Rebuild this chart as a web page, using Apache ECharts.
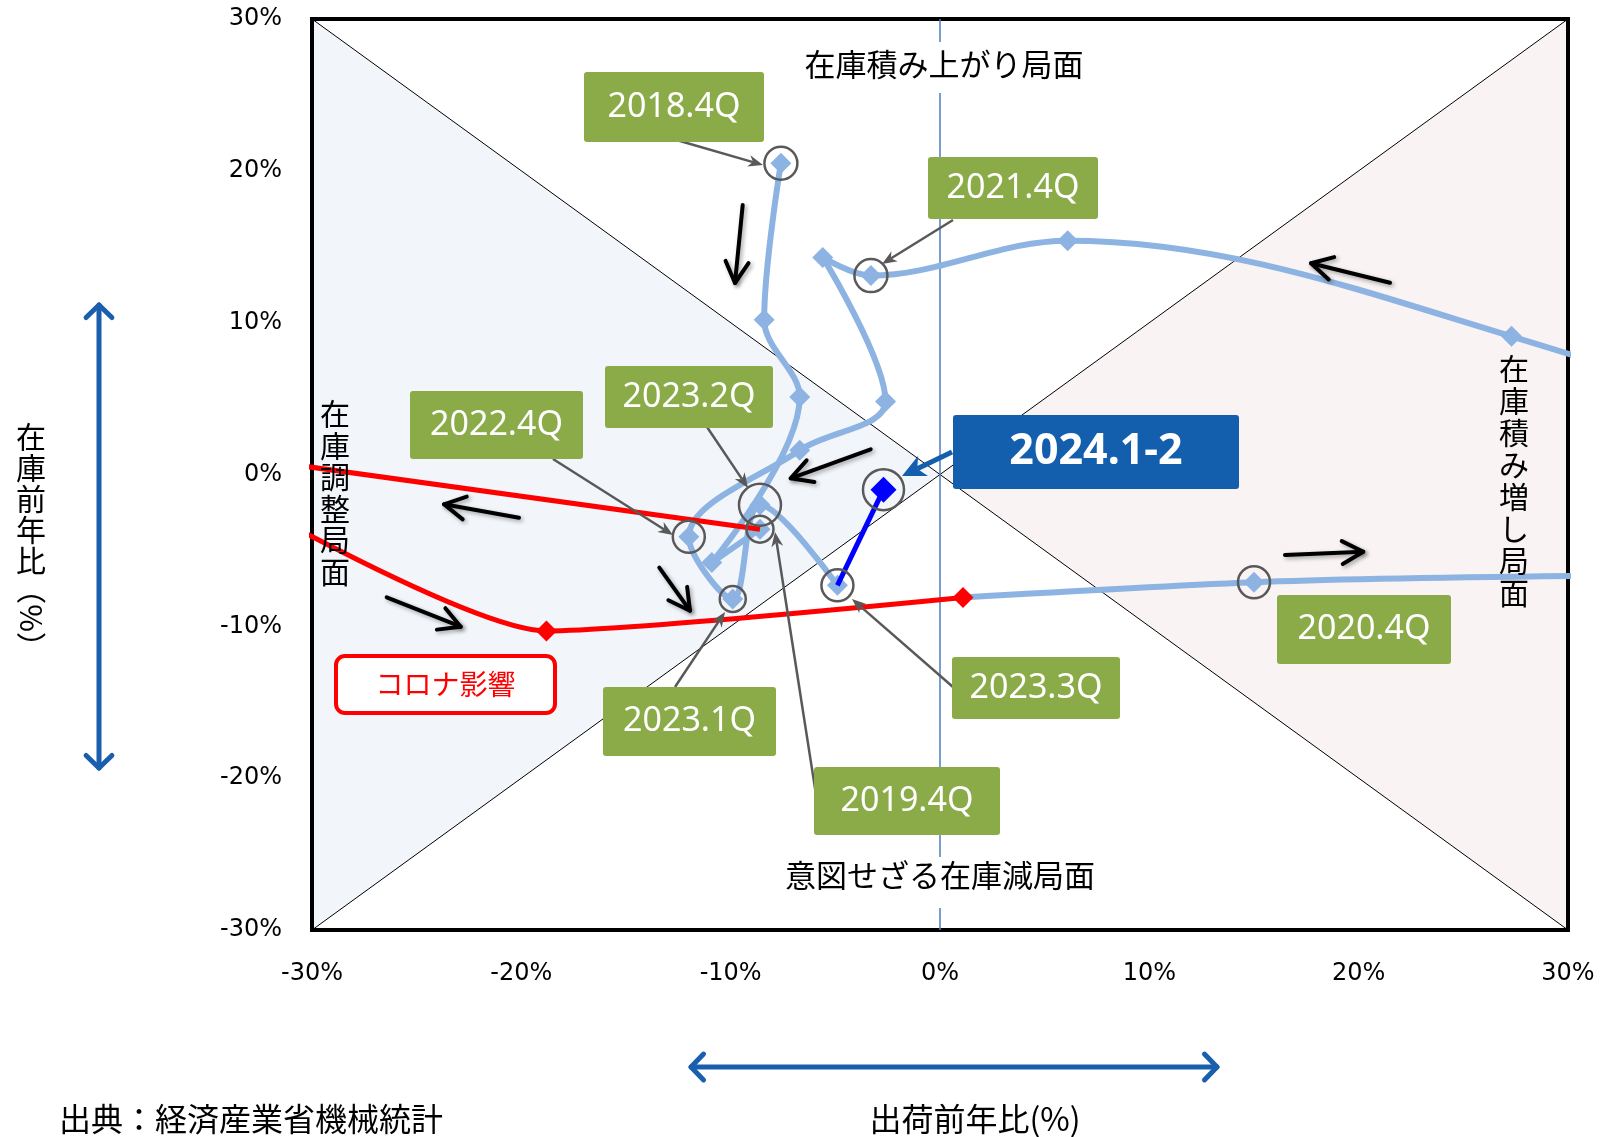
<!DOCTYPE html>
<html>
<head>
<meta charset="utf-8">
<script src="https://cdn.jsdelivr.net/npm/echarts@6/dist/echarts.min.js"></script>
<style>
html, body { margin: 0; padding: 0; background: #fff; }
#main { width: 1606px; height: 1137px; }
</style>
</head>
<body>
<div id="main"></div>
<script>
// 四半期ごとの 出荷前年比 / 在庫前年比 (%)
const quarters = ['2018.4Q', '2019.1Q', '2019.2Q', '2019.3Q', '2019.4Q', '2020.1Q', '2020.2Q', '2020.3Q',
  '2020.4Q', '2021.1Q', '2021.2Q', '2021.3Q', '2021.4Q', '2022.1Q', '2022.2Q', '2022.3Q', '2022.4Q',
  '2023.1Q', '2023.2Q', '2023.3Q', '2024.1-2']
const shipYoY = [-7.6, -8.4, -6.7, -10.9, -8.6, -38, -18.8, 1.1,
  15.0, 55, 27.3, 6.1, -3.3, -5.6, -2.6, -6.7, -12.0,
  -9.9, -8.6, -4.9, -2.7]
const stockYoY = [20.5, 10.2, 5.1, -5.8, -3.6, 2.0, -10.3, -8.1,
  -7.1, -5, 9.1, 15.4, 13.1, 14.3, 4.8, 1.6, -4.1,
  -8.2, -2.0, -7.3, -1.0]
const axisTicks = [-30, -20, -10, 0, 10, 20, 30]

// 局面の区切り (対角線) と塗り分け
const diagDown = [[-30, 30], [30, -30]]
const diagUp = [[-30, -30], [30, 30]]
const zeroLine = [[0, 30], [0, -30]]
const phaseLeft = [[-30, 30], [0, 0], [-30, -30]]
const phaseRight = [[30, 30], [0, 0], [30, -30]]

const LIGHT = '#8db3e2'
const RED = '#ff0000'
const DARK = '#0000ff'
const GREEN = '#8aab47'
const NAVY = '#135fad'
const JP = '"Noto Sans CJK JP", sans-serif'

const myChart = echarts.init(document.getElementById('main'))

// 区間 a..b をデータ項目に
function seg(a, b, markFn) {
  const out = []
  for (let i = a; i <= b; i++) {
    const item = { name: quarters[i], value: [shipYoY[i], stockYoY[i]] }
    const m = markFn ? markFn(i) : null
    if (m) Object.assign(item, m)
    out.push(item)
  }
  return out
}

function guide(data, color, width) {
  return {
    type: 'line', data: data, symbol: 'none', silent: true, z: 1,
    lineStyle: { color: color, width: width }
  }
}

const SM = 0.35

myChart.setOption({
  animation: false,
  grid: {
    left: 312, right: 38, top: 19, bottom: 207,
    show: true, borderColor: '#000', borderWidth: 4
  },
  xAxis: {
    type: 'value', min: axisTicks[0], max: axisTicks[axisTicks.length - 1], interval: 10,
    axisLine: { show: false }, axisTick: { show: false }, splitLine: { show: false },
    axisLabel: { formatter: (v) => v + '%', fontFamily: 'DejaVu Sans', fontSize: 24, color: '#000', margin: 32 }
  },
  yAxis: {
    type: 'value', min: axisTicks[0], max: axisTicks[axisTicks.length - 1], interval: 10,
    axisLine: { show: false }, axisTick: { show: false }, splitLine: { show: false },
    axisLabel: { formatter: (v) => v + '%', fontFamily: 'DejaVu Sans', fontSize: 24, color: '#000', margin: 30 }
  },
  series: [
    guide(diagDown, '#000', 1),
    guide(diagUp, '#000', 1),
    guide(zeroLine, '#4a7ebb', 1.5),
    {
      name: '2019', type: 'line', smooth: SM, z: 3,
      symbol: 'diamond', symbolSize: 21,
      itemStyle: { color: LIGHT }, lineStyle: { color: LIGHT, width: 6 },
      data: seg(0, 4)
    },
    {
      name: 'after', type: 'line', smooth: SM, z: 3,
      symbol: 'diamond', symbolSize: 21,
      itemStyle: { color: LIGHT }, lineStyle: { color: LIGHT, width: 6 },
      data: seg(7, 19, (i) => (i === 7 ? { symbol: 'none' } : null))
    },
    {
      name: 'コロナ影響', type: 'line', smooth: 0.2, z: 4,
      symbol: 'diamond', symbolSize: 21,
      itemStyle: { color: RED }, lineStyle: { color: RED, width: 5 },
      data: seg(4, 7, (i) => (i < 6 ? { symbol: 'none' } : null))
    },
    {
      name: 'latest', type: 'line', z: 5,
      symbol: 'diamond', symbolSize: 26,
      itemStyle: { color: DARK }, lineStyle: { color: DARK, width: 5 },
      data: seg(19, 20, (i) => (i === 19 ? { symbol: 'none' } : null))
    }
  ]
})

const toPx = (p) => myChart.convertToPixel({ gridIndex: 0 }, p)
const ptOf = (q) => { const i = quarters.indexOf(q); return toPx([shipYoY[i], stockYoY[i]]) }

// 吹き出し
const callouts = [
  { q: '2018.4Q', box: [584, 72, 180, 70], from: [673, 139], to: [763, 165], r: 16.5 },
  { q: '2021.4Q', box: [928, 157, 170, 62], from: [953, 220], to: [882, 264], r: 16.5 },
  { q: '2022.4Q', box: [410, 391, 173, 68], from: [553, 459], to: [673, 535], r: 16 },
  { q: '2023.2Q', box: [605, 366, 168, 62], from: [707, 427], to: [748, 488], r: 21 },
  { q: '2023.1Q', box: [603, 687, 173, 69], from: [675, 687], to: [725, 612], r: 13 },
  { q: '2019.4Q', box: [814, 767, 186, 68], from: [817, 801], to: [775, 532], r: 13.5 },
  { q: '2023.3Q', box: [952, 657, 168, 62], from: [953, 687], to: [852, 599], r: 16 },
  { q: '2020.4Q', box: [1277, 595, 174, 69], from: null, to: null, r: 16 }
]

// 動きの方向を示す矢印
const moveArrows = [
  [[742.7, 205], [735, 283]],
  [[1390, 282.7], [1311, 263.3]],
  [[870.7, 449.3], [790.7, 478.3]],
  [[519, 517.7], [444, 504.3]],
  [[386.7, 597.3], [460.7, 626.7]],
  [[659.3, 567.7], [690, 610.7]],
  [[1285, 555], [1363.3, 551.7]]
]

function wings(p1, p2, len, half) {
  const a = Math.atan2(p2[1] - p1[1], p2[0] - p1[0])
  return [
    [p2[0] - len * Math.cos(a - half), p2[1] - len * Math.sin(a - half)],
    [p2[0] - len * Math.cos(a + half), p2[1] - len * Math.sin(a + half)]
  ]
}

function openArrow(p1, p2, color, w, len, half, z, shadow, both) {
  const st = { stroke: color, lineWidth: w, lineCap: 'round', lineJoin: 'round', fill: null }
  if (shadow) Object.assign(st, { shadowBlur: 4, shadowOffsetX: 2, shadowOffsetY: 2, shadowColor: 'rgba(0,0,0,0.35)' })
  const els = [{ type: 'line', z: z, silent: true, shape: { x1: p1[0], y1: p1[1], x2: p2[0], y2: p2[1] }, style: st }]
  const w2 = wings(p1, p2, len, half)
  els.push({ type: 'polyline', z: z, silent: true, shape: { points: [w2[0], p2, w2[1]] }, style: st })
  if (both) {
    const w1 = wings(p2, p1, len, half)
    els.push({ type: 'polyline', z: z, silent: true, shape: { points: [w1[0], p1, w1[1]] }, style: st })
  }
  return els
}

function solidArrow(p1, p2, color, w, len, half, z) {
  const a = Math.atan2(p2[1] - p1[1], p2[0] - p1[0])
  const notch = [p2[0] - len * 0.65 * Math.cos(a), p2[1] - len * 0.65 * Math.sin(a)]
  const w2 = wings(p1, p2, len, half)
  return [
    { type: 'line', z: z, silent: true, shape: { x1: p1[0], y1: p1[1], x2: notch[0], y2: notch[1] }, style: { stroke: color, lineWidth: w } },
    { type: 'polygon', z: z, silent: true, shape: { points: [p2, w2[0], notch, w2[1]] }, style: { fill: color } }
  ]
}

function boxText(box, text, bg, font, z) {
  return [
    { type: 'rect', z: z, silent: true, shape: { x: box[0], y: box[1], width: box[2], height: box[3], r: 3 }, style: { fill: bg } },
    {
      type: 'text', z: z + 1, silent: true, x: box[0] + box[2] / 2, y: box[1] + box[3] / 2,
      style: { text: text, fill: '#fff', font: font, align: 'center', verticalAlign: 'middle' }
    }
  ]
}

function label(x, y, text, size, opts) {
  return {
    type: 'text', z: 12, silent: true, x: x, y: y, rotation: (opts && opts.rotation) || 0,
    style: Object.assign({ text: text, fill: '#000', fontFamily: JP, fontSize: size, align: 'center', verticalAlign: 'middle' }, opts && opts.style)
  }
}

const g = []
g.push({ type: 'polygon', z: -1, silent: true, shape: { points: phaseLeft.map(toPx) }, style: { fill: '#f2f6fb' } })
g.push({ type: 'polygon', z: -1, silent: true, shape: { points: phaseRight.map(toPx) }, style: { fill: '#f9f3f3' } })

// 局面の名前
g.push(label(944, 42, '在庫積み上がり局面', 31, { style: { verticalAlign: 'top', backgroundColor: '#fff', padding: [5, 6, 12, 6], lineHeight: 34 } }))
g.push(label(940, 857, '意図せざる在庫減局面', 31, { style: { verticalAlign: 'top', backgroundColor: '#fff', padding: [1, 6, 16, 6], lineHeight: 34 } }))
g.push(label(335, 398, '在\n庫\n調\n整\n局\n面', 30, { style: { verticalAlign: 'top', lineHeight: 31.5 } }))
g.push(label(1514, 353, '在\n庫\n積\nみ\n増\nし\n局\n面', 30, { style: { verticalAlign: 'top', lineHeight: 32 } }))

// 軸タイトル・出典
g.push(label(31, 421, '在\n庫\n前\n年\n比', 30, { style: { verticalAlign: 'top', lineHeight: 31 } }))
g.push(label(31, 618, '（%）', 30, { rotation: -Math.PI / 2 }))
g.push(label(975, 1119, '出荷前年比(%)', 32))
g.push(label(59, 1119, '出典：経済産業省機械統計', 32, { style: { align: 'left' } }))

// 軸方向の両矢印
openArrow([99, 305], [99, 768], '#1a5fae', 5, 18, 0.8, 5, false, true).forEach((e) => g.push(e))
openArrow([691, 1067], [1217, 1067], '#1a5fae', 5, 18, 0.8, 5, false, true).forEach((e) => g.push(e))

// コロナ影響
g.push({ type: 'rect', z: 12, silent: true, shape: { x: 336, y: 656, width: 219, height: 57, r: 9 }, style: { fill: '#fff', stroke: RED, lineWidth: 4 } })
g.push(label(445.5, 684.5, 'コロナ影響', 28, { style: { fill: RED } }))

moveArrows.forEach((a) => openArrow(a[0], a[1], '#000', 4, 24, 0.5, 14, true, false).forEach((e) => g.push(e)))

callouts.forEach((c) => {
  const p = ptOf(c.q)
  g.push({ type: 'circle', z: 15, silent: true, shape: { cx: p[0], cy: p[1], r: c.r }, style: { fill: null, stroke: '#595959', lineWidth: 2.5 } })
  if (c.from) solidArrow(c.from, c.to, '#595959', 2.5, 16, 0.38, 15).forEach((e) => g.push(e))
  boxText(c.box, c.q, GREEN, '34px "Noto Sans", sans-serif', 16).forEach((e) => g.push(e))
})

// 最新値
const pLast = ptOf('2024.1-2')
g.push({ type: 'circle', z: 15, silent: true, shape: { cx: pLast[0], cy: pLast[1], r: 20.5 }, style: { fill: null, stroke: '#595959', lineWidth: 2.5 } })
solidArrow([952, 452], [902, 476], NAVY, 5, 26, 0.45, 15).forEach((e) => g.push(e))
boxText([953, 415, 286, 74], '2024.1-2', NAVY, 'bold 43px "Noto Sans", sans-serif', 16).forEach((e) => g.push(e))

myChart.setOption({ graphic: { elements: g } })
</script>
</body>
</html>
